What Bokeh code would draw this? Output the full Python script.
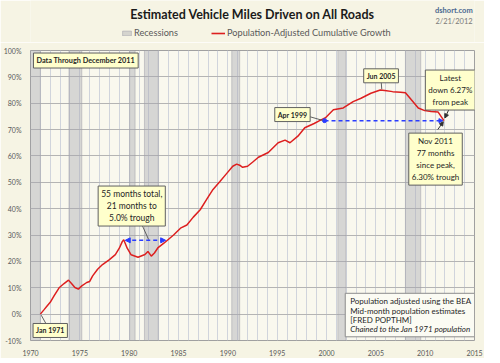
from bokeh.plotting import figure
from bokeh.layouts import column
from bokeh.models import Range1d, FixedTicker, Label, Legend, LegendItem, Arrow, NormalHead
from bokeh.core.properties import value
from bokeh.embed import file_html
from bokeh.resources import INLINE

# ---- data ----
years = [1971.0, 1971.4, 1971.7, 1972.0, 1972.4, 1972.9, 1973.4, 1973.85, 1974.2, 1974.5,
         1974.85, 1975.2, 1975.7, 1976.0, 1976.3, 1976.8, 1977.3, 1978.0, 1978.6, 1979.0,
         1979.3, 1979.45, 1979.8, 1980.2, 1980.9, 1981.6, 1981.9, 1982.24, 1982.56, 1982.9,
         1983.55, 1984.5, 1985.2, 1985.85, 1986.5, 1987.2, 1987.9, 1988.5,
         1989.2, 1989.85, 1990.5, 1990.9, 1991.2, 1991.5, 1992.0, 1992.5, 1993.1, 1994.1,
         1995.1, 1995.8, 1996.3, 1997.1, 1997.8, 1998.75, 1999.3, 1999.9, 2000.7, 2001.7,
         2002.7, 2003.5, 2004.5, 2005.45, 2005.9, 2006.7, 2007.5, 2008.0, 2008.6, 2009.3,
         2009.95, 2010.6, 2011.3, 2011.9]
growth = [0.0, 1.8, 3.2, 4.5, 7.0, 10.0, 11.6, 12.9, 11.4, 10.1,
          9.5, 10.7, 12.0, 12.4, 14.5, 17.0, 18.8, 20.7, 22.6, 25.0,
          27.5, 28.2, 25.0, 22.5, 21.6, 22.6, 23.8, 22.0, 23.2, 25.1,
          27.0, 30.0, 32.6, 33.8, 36.8, 39.6, 43.8, 47.3,
          50.3, 53.2, 56.1, 56.9, 56.5, 55.7, 56.1, 57.6, 59.5, 61.3,
          65.0, 66.0, 65.0, 67.5, 70.7, 72.3, 73.4, 74.5, 77.5, 78.2,
          80.6, 81.9, 83.8, 85.0, 84.8, 84.4, 84.2, 84.0, 81.3, 78.2,
          77.2, 76.9, 76.7, 73.4]

rec_start = [1970.0, 1973.9, 1980.05, 1981.55, 1990.4, 2001.15, 2008.0]
rec_end = [1971.0, 1975.2, 1980.6, 1982.95, 1991.2, 2001.95, 2009.55]

x_ticks = [1970, 1975, 1980, 1985, 1990, 1995, 2000, 2005, 2010, 2015]
y_ticks = [-10, 0, 10, 20, 30, 40, 50, 60, 70, 80, 90, 100]
y_labels = ["-10%", "0%", "10%", "20%", "30%", "40%", "50%", "60%", "70%", "80%", "90%", "100%"]
grid_years = list(range(1970, 2016))

title_text = "Estimated Vehicle Miles Driven on All Roads"
site_text = "dshort.com"
date_text = "2/21/2012"
legend_labels = ["Recessions", "Population-Adjusted Cumulative Growth"]

FONT = "Lato"
BG = "#f6f4e4"
RED = "#dd1f1f"
REC_FILL = "#a8a8b0"
REC_LINE = "#a0a0a8"

# ---- header (title, site, date, legend) ----
W = 484
HH = 42
header = figure(width=W, height=HH, output_backend="svg", toolbar_location=None,
                x_range=Range1d(0, W), y_range=Range1d(0, HH), min_border=0,
                background_fill_color=BG, border_fill_color=BG)
header.axis.visible = False
header.grid.visible = False
header.outline_line_color = None
header.text(x=[242], y=[HH - 14], text=[title_text], text_align="center", text_baseline="middle",
            text_font=value(FONT), text_font_size="12.5px", text_font_style="bold",
            text_color="#1a1a1a")
header.text(x=[482], y=[HH - 10], text=[site_text], text_align="right", text_baseline="middle",
            text_font=value(FONT), text_font_size="7.5px", text_font_style="bold",
            text_color="#4a6890")
header.text(x=[482], y=[HH - 21], text=[date_text], text_align="right", text_baseline="middle",
            text_font=value(FONT), text_font_size="7.5px", text_color="#7a7a7a")
# legend swatch renderers (placed outside the visible header range)
leg_rec = header.quad(left=[-20], right=[-10], bottom=[-20], top=[-10], fill_color=REC_FILL,
                      fill_alpha=0.42, line_color=REC_LINE, line_alpha=0.5)
leg_line = header.line(x=[-20, -10], y=[-20, -20], line_color=RED, line_width=1.6)
for lab, rend, gw, lx in [(legend_labels[0], leg_rec, 11, 91), (legend_labels[1], leg_line, 14, 181)]:
    header.add_layout(Legend(items=[LegendItem(label=lab, renderers=[rend])],
                             orientation="horizontal", location=(lx, 4),
                             background_fill_alpha=0, border_line_alpha=0,
                             label_text_font=FONT, label_text_font_size="9.2px",
                             label_text_color="#595959", label_text_baseline="middle",
                             glyph_width=gw, glyph_height=6, spacing=0, padding=0, margin=0,
                             label_standoff=2, label_height=6, label_width=10))

# ---- main chart ----
p = figure(width=W, height=316, output_backend="svg", toolbar_location=None,
           x_range=Range1d(1970, 2015), y_range=Range1d(-10, 100),
           min_border_left=18, min_border_right=10, min_border_top=8, min_border_bottom=14,
           background_fill_color="#f9f8ee", border_fill_color=BG)
p.outline_line_color = "#a0a0a0"

for ax in (p.xaxis[0], p.yaxis[0]):
    ax.axis_line_color = None
    ax.major_tick_line_color = None
    ax.minor_tick_line_color = None
    ax.major_label_text_font = FONT
    ax.major_label_text_font_size = "7px"
    ax.major_label_text_color = "#595959"
    ax.major_label_standoff = 3
p.xaxis.ticker = FixedTicker(ticks=x_ticks)
p.yaxis.ticker = FixedTicker(ticks=y_ticks)
p.yaxis.major_label_overrides = {t: l for t, l in zip(y_ticks, y_labels)}

p.xgrid.ticker = FixedTicker(ticks=grid_years)
p.xgrid.grid_line_color = "#d0d4dc"
p.xgrid.grid_line_width = 1
p.ygrid.ticker = FixedTicker(ticks=y_ticks)
p.ygrid.grid_line_color = "#b4b4b4"
p.ygrid.grid_line_width = 1

p.quad(left=rec_start, right=rec_end, bottom=-10, top=100,
       fill_color=REC_FILL, fill_alpha=0.42, line_color=REC_LINE, line_alpha=0.5)

p.line(years, growth, line_color=RED, line_width=1.5)

BLUE = "#2a3cff"
p.add_layout(Arrow(x_start=1979.6, y_start=28.0, x_end=1983.7, y_end=28.0,
                   line_color=BLUE, line_width=1.5, line_dash="4 3",
                   start=NormalHead(size=5, fill_color=BLUE, line_color=BLUE),
                   end=NormalHead(size=5, fill_color=BLUE, line_color=BLUE)))
p.add_layout(Arrow(x_start=1999.8, y_start=73.4, x_end=2011.8, y_end=73.4,
                   line_color=BLUE, line_width=1.5, line_dash="4 3",
                   end=NormalHead(size=4, fill_color=BLUE, line_color=BLUE)))
p.scatter([1999.8], [73.4], size=4, color=BLUE)

# leader lines
p.segment(x0=[1971.09, 1981.15, 1998.3, 2005.53], y0=[-0.4, 35.1, 74.9, 88.8],
          x1=[1971.7, 1981.97, 1999.6, 2005.6], y1=[-4.5, 28.3, 73.5, 85.3],
          line_color="#505050", line_width=0.9)
p.add_layout(Arrow(x_start=2012.45, y_start=78.0, x_end=2012.0, y_end=74.4,
                   line_color="#303030", line_width=1,
                   end=NormalHead(size=4, fill_color="#303030", line_color="#303030")))
p.add_layout(Arrow(x_start=2011.28, y_start=70.0, x_end=2011.84, y_end=73.0,
                   line_color="#303030", line_width=1,
                   end=NormalHead(size=4, fill_color="#303030", line_color="#303030")))

def callout(x, y, text, bold=True, align="center", size=None):
    if size is None:
        size = "7px" if bold else "8.5px"
    p.add_layout(Label(x=x, y=y, text=text, text_align=align, text_baseline="middle",
                       text_font=FONT, text_font_size=size,
                       text_font_style="bold" if bold else "normal",
                       text_color="#262626", text_line_height=1.2,
                       background_fill_color="#ffffcc", background_fill_alpha=1.0,
                       border_line_color="#606060", border_line_width=1, padding=3))

callout(1970.3, 96.2, "Data Through December 2011", align="left", size="7.3px")
callout(1972.0, -6.2, "Jan 1971")
callout(1980.26, 41.0, "55 months total,\n21 months to\n5.0% trough", bold=False)
callout(1996.55, 75.7, "Apr 1999")
callout(2005.53, 90.4, "Jun 2005")
callout(2012.55, 85.0, "Latest\ndown 6.27%\nfrom peak", bold=False, size="8px")
callout(2011.05, 58.8, "Nov 2011\n77 months\nsince peak,\n6.30% trough", bold=False, size="8px")

# bottom right note
p.quad(left=2001.9, right=2015, bottom=-8.6, top=7.9, fill_color="#fbfbf3",
       line_color="#8c8c8c", line_width=1)
notes = ["Population adjusted using the BEA", "Mid-month population estimates",
         "[FRED POPTHM]", "Chained to the Jan 1971 population"]
note_y = [4.9, 1.3, -2.1, -5.6]
for t, yy, st in zip(notes, note_y, ["normal", "normal", "normal", "italic"]):
    p.add_layout(Label(x=2002.4, y=yy, text=t, text_align="left", text_baseline="middle",
                       text_font=FONT, text_font_size="8px", text_font_style=st,
                       text_color="#262626"))

layout = column(header, p, spacing=0)
open("out.html", "w").write(file_html(layout, INLINE))
